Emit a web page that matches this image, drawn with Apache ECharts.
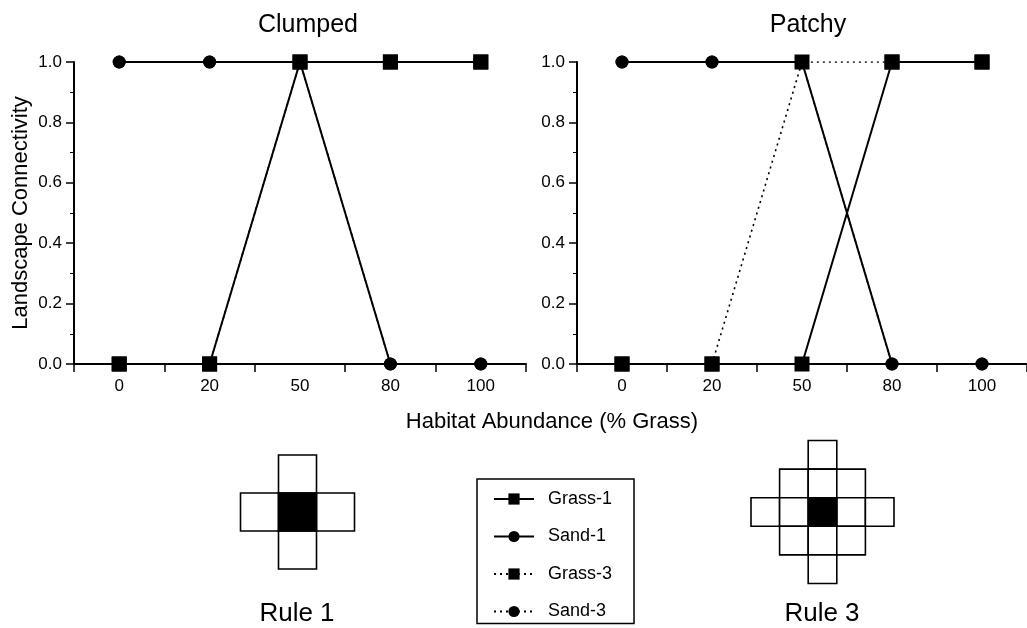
<!DOCTYPE html>
<html>
<head>
<meta charset="utf-8">
<script src="https://cdn.jsdelivr.net/npm/echarts@6/dist/echarts.min.js"></script>
<style>
  html, body { margin: 0; padding: 0; background: #fff; }
  #main { width: 1027px; height: 628px; }
</style>
</head>
<body>
<div id="main"></div>
<script>
// categories (% grass)
var categories = ['0', '20', '50', '80', '100'];

// Clumped panel
var clumpedGrass1 = [0, 0, 1, 1, 1];
var clumpedSand1 = [1, 1, 1, 0, 0];
var clumpedGrass3 = [0, 0, 1, 1, 1];
var clumpedSand3 = [1, 1, 1, 0, 0];

// Patchy panel
var patchyGrass1 = [0, 0, 0, 1, 1];
var patchySand1 = [1, 1, 1, 0, 0];
var patchyGrass3 = [0, 0, 1, 1, 1];
var patchySand3 = [1, 1, 1, 0, 0];

var panelTitles = ['Clumped', 'Patchy'];
var legendNames = ['Grass-1', 'Sand-1', 'Grass-3', 'Sand-3'];

var FONT = '"Liberation Sans", Arial, Helvetica, sans-serif';
var INK = '#000';

function xAxisFor(idx) {
    return {
        type: 'category',
        gridIndex: idx,
        data: categories,
        boundaryGap: true,
        axisLine: { lineStyle: { color: INK, width: 2 } },
        axisTick: { show: true, length: 8, inside: false, lineStyle: { color: INK, width: 1.5 } },
        axisLabel: { color: INK, fontSize: 17, fontFamily: FONT, margin: 14 },
        splitLine: { show: false }
    };
}

function yAxisFor(idx) {
    return {
        type: 'value',
        gridIndex: idx,
        min: 0,
        max: 1,
        interval: 0.2,
        name: idx === 0 ? 'Landscape Connectivity' : '',
        nameLocation: 'middle',
        nameGap: 42,
        nameTextStyle: { color: INK, fontSize: 22, fontFamily: FONT },
        axisLine: { show: true, lineStyle: { color: INK, width: 2 } },
        axisTick: { show: true, length: 8, lineStyle: { color: INK, width: 1.5 } },
        minorTick: { show: true, splitNumber: 2, length: 4, lineStyle: { color: INK, width: 1 } },
        axisLabel: {
            color: INK, fontSize: 17, fontFamily: FONT, margin: 12,
            formatter: function (v) { return v.toFixed(1); }
        },
        splitLine: { show: false }
    };
}

function lineSeries(name, data, idx, dotted, square) {
    return {
        name: name,
        type: 'line',
        xAxisIndex: idx,
        yAxisIndex: idx,
        data: data,
        z: dotted ? 2 : 3,
        symbol: square ? 'rect' : 'circle',
        symbolSize: square ? 15 : 13,
        showAllSymbol: true,
        itemStyle: { color: INK },
        lineStyle: { color: INK, width: dotted ? 1.6 : 2, type: dotted ? [2, 4] : 'solid' },
        emphasis: { disabled: true },
        animation: false
    };
}

// Rule neighbourhood diagrams: cells with |dx|+|dy| <= radius
function ruleCells(cx, cy, radius, cell) {
    var out = [];
    for (var dy = -radius; dy <= radius; dy++) {
        for (var dx = -radius; dx <= radius; dx++) {
            if (Math.abs(dx) + Math.abs(dy) > radius) continue;
            var center = dx === 0 && dy === 0;
            out.push({
                type: 'rect',
                z: center ? 11 : 10,
                shape: { x: cx + dx * cell - cell / 2, y: cy + dy * cell - cell / 2, width: cell, height: cell },
                style: { fill: center ? INK : '#fff', stroke: INK, lineWidth: 1.6 }
            });
        }
    }
    return out;
}

function label(text, x, y, size) {
    return {
        type: 'text', x: x, y: y,
        style: { text: text, fill: INK, font: size + 'px ' + FONT, textAlign: 'center', textVerticalAlign: 'middle' }
    };
}

var graphics = [
    label('Habitat Abundance (% Grass)', 552, 422, 22),
    label('Rule 1', 297, 614, 26),
    label('Rule 3', 822, 614, 26)
].concat(ruleCells(297.5, 512, 1, 38)).concat(ruleCells(822.5, 512, 2, 28.6));

var option = {
    backgroundColor: '#fff',
    animation: false,
    textStyle: { fontFamily: FONT },
    title: [
        { text: panelTitles[0], left: 303, top: 8, textAlign: 'center',
          textStyle: { color: INK, fontSize: 25, fontWeight: 'normal', fontFamily: FONT } },
        { text: panelTitles[1], left: 803, top: 8, textAlign: 'center',
          textStyle: { color: INK, fontSize: 25, fontWeight: 'normal', fontFamily: FONT } }
    ],
    grid: [
        { left: 74, top: 62, width: 452, height: 302 },
        { left: 577, top: 62, width: 452, height: 302 }
    ],
    xAxis: [xAxisFor(0), xAxisFor(1)],
    yAxis: [yAxisFor(0), yAxisFor(1)],
    legend: {
        data: legendNames,
        orient: 'vertical',
        left: 477,
        top: 479,
        height: 149,
        itemWidth: 40,
        itemHeight: 14,
        itemGap: 19.5,
        padding: [11, 22, 3, 16],
        borderColor: INK,
        borderWidth: 1.5,
        selectedMode: false,
        textStyle: { color: INK, fontSize: 18, fontFamily: FONT, padding: [0, 0, 0, 9] }
    },
    graphic: graphics,
    series: [
        lineSeries('Sand-3', clumpedSand3, 0, true, false),
        lineSeries('Grass-3', clumpedGrass3, 0, true, true),
        lineSeries('Sand-1', clumpedSand1, 0, false, false),
        lineSeries('Grass-1', clumpedGrass1, 0, false, true),
        lineSeries('Sand-3', patchySand3, 1, true, false),
        lineSeries('Grass-3', patchyGrass3, 1, true, true),
        lineSeries('Sand-1', patchySand1, 1, false, false),
        lineSeries('Grass-1', patchyGrass1, 1, false, true)
    ]
};

var chart = echarts.init(document.getElementById('main'), null, { renderer: 'canvas' });
chart.setOption(option);
</script>
</body>
</html>
